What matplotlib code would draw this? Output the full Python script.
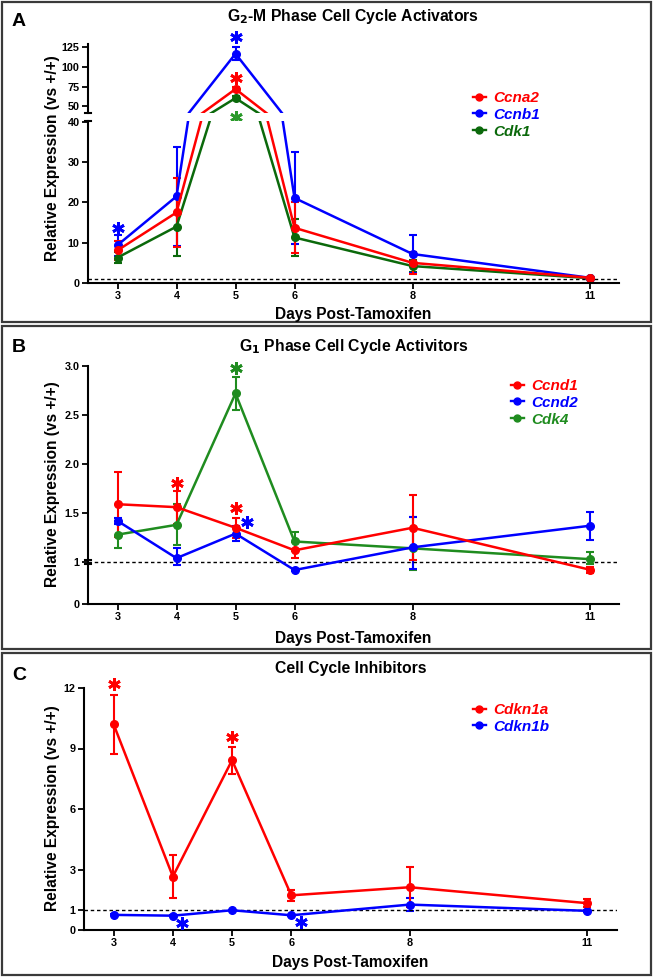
import numpy as np
import matplotlib
matplotlib.use("Agg")
import matplotlib.pyplot as plt
from matplotlib.lines import Line2D
from matplotlib.patches import Rectangle
from matplotlib.transforms import offset_copy

plt.rcParams['font.family'] = ['Liberation Sans', 'DejaVu Sans']
plt.rcParams['font.weight'] = 'bold'

W, H = 655, 977

days = [3, 4, 5, 6, 8, 11]
day_ticks = ['3', '4', '5', '6', '8', '11']

# panel A - G2-M activators
a_genes = ['Ccna2', 'Ccnb1', 'Cdk1']
ccna2 = [8.1, 17.5, 72.0, 13.7, 5.0, 1.3]
ccna2_err = [2.3, 8.5, 3.0, 6.3, 2.7, 0.3]
ccnb1 = [9.4, 21.5, 117.0, 21.1, 7.2, 1.3]
ccnb1_err = [2.6, 12.2, 8.5, 11.4, 4.7, 0.3]
cdk1 = [6.3, 14.0, 60.5, 11.3, 4.2, 1.2]
cdk1_err = [1.3, 7.2, 3.0, 4.7, 1.5, 0.2]

# panel B - G1 activators
b_genes = ['Ccnd1', 'Ccnd2', 'Cdk4']
ccnd1 = [1.59, 1.56, 1.35, 1.12, 1.35, 0.82]
ccnd1_err = [0.33, 0.17, 0.10, 0.08, 0.33, 0.07]
ccnd2 = [1.42, 1.04, 1.29, 0.81, 1.15, 1.37]
ccnd2_err = [0.03, 0.10, 0.08, 0.02, 0.31, 0.14]
cdk4 = [1.28, 1.38, 2.72, 1.21, 1.14, 1.03]
cdk4_err = [0.14, 0.21, 0.17, 0.10, 0.32, 0.07]

# panel C - inhibitors
c_genes = ['Cdkn1a', 'Cdkn1b']
cdkn1a = [10.2, 2.65, 8.42, 1.72, 2.12, 1.33]
cdkn1a_err = [1.45, 1.05, 0.66, 0.28, 1.0, 0.2]
cdkn1b = [0.75, 0.71, 0.98, 0.73, 1.26, 0.95]
cdkn1b_err = [0.03, 0.03, 0.03, 0.03, 0.32, 0.04]

RED = '#ff0000'
BLUE = '#0000ff'
DKGREEN = '#0b690b'
GREEN = '#1f8c1f'

TICK = 7.8
LAB = 11.2
TITLE = 11.3


def rect(l, r, t, b):
    return [l / W, 1 - b / H, (r - l) / W, (b - t) / H]


def style(ax, bottom=True):
    for s in ['top', 'right']:
        ax.spines[s].set_visible(False)
    ax.spines['left'].set_linewidth(1.5)
    ax.spines['bottom'].set_linewidth(1.5)
    if not bottom:
        ax.spines['bottom'].set_visible(False)
    ax.tick_params(direction='out', length=4, width=1.3, labelsize=TICK, pad=2)
    for t in ax.get_xticklabels() + ax.get_yticklabels():
        t.set_fontweight('bold')
    ax.set_xlim(2.5, 11.5)


def series(ax, y, e, c):
    ax.errorbar(days, y, yerr=e, color=c, marker='o', ms=5.5, lw=1.8,
                elinewidth=1.5, capsize=3, capthick=1.5, clip_on=True)


def star(ax, x, y, c, dx, dy):
    tr = offset_copy(ax.transData, fig=fig, x=dx, y=dy, units='dots')
    ax.plot([x], [y], marker=(6, 2, 0), ms=9, mew=2.0, color=c,
            transform=tr, clip_on=False, zorder=5)


def legend(ax, genes, colors, x0, y0):
    hs = [Line2D([], [], color=c, marker='o', ms=5, lw=1.7) for c in colors]
    ax.legend(hs, genes, loc='upper left', bbox_to_anchor=(x0 / W, 1 - y0 / H),
              bbox_transform=fig.transFigure, frameon=False, borderpad=0,
              borderaxespad=0, handlelength=0.85, handletextpad=0.5,
              labelspacing=0.18, labelcolor='linecolor',
              prop=dict(family='Liberation Sans', weight='bold', style='italic', size=11))


def fline(x0, x1, y0, y1):
    fig.add_artist(Line2D([x0 / W, x1 / W], [1 - y0 / H, 1 - y1 / H], color='black',
                          lw=1.5, transform=fig.transFigure))


def labels(title, letter, xc, ty, ly, xy, yy):
    fig.text(xc / W, 1 - ty / H, title, ha='center', va='center',
             fontsize=TITLE, fontweight='bold')
    fig.text(19 / W, 1 - ly / H, letter, ha='center', va='center',
             fontsize=14, fontweight='bold')
    fig.text(xc / W, 1 - xy / H, 'Days Post-Tamoxifen', ha='center', va='center',
             fontsize=LAB, fontweight='bold')
    fig.text(53 / W, 1 - yy / H, 'Relative Expression (vs +/+)', ha='center',
             va='center', rotation=90, fontsize=LAB, fontweight='bold')


fig = plt.figure(figsize=(W / 100, H / 100), dpi=100)

# panel frames
for t, b in [(2, 322), (326, 649), (653, 975)]:
    fig.add_artist(Rectangle((2 / W, 1 - b / H), 649 / W, (b - t) / H, fill=False,
                             ec='#3a3a3a', lw=1.6, transform=fig.transFigure))

# ---------------- panel A ----------------
axu = fig.add_axes(rect(88, 619, 43.5, 113))
axl = fig.add_axes(rect(88, 619, 121, 283))
for ax in (axu, axl):
    series(ax, cdk1, cdk1_err, DKGREEN)
    series(ax, ccnb1, ccnb1_err, BLUE)
    series(ax, ccna2, ccna2_err, RED)
axu.set_ylim(41.5, 130)
axl.set_ylim(0, 40.2)
axu.set_yticks([50, 75, 100, 125])
axl.set_yticks([0, 10, 20, 30, 40])
axl.axhline(1, color='black', lw=1, ls=(0, (2.5, 2)))
style(axu, bottom=False)
style(axl)
axu.set_xticks([])
axl.set_xticks(days, day_ticks)
for t in axl.get_xticklabels():
    t.set_fontweight('bold')
fline(85, 91, 113, 113)
fline(85, 91, 121, 121)

star(axl, 3, ccnb1[0] + ccnb1_err[0], BLUE, 0, 7)
star(axu, 5, ccnb1[2] + ccnb1_err[2], BLUE, 0, 10)
star(axu, 5, ccna2[2], RED, 0, 11)
star(axu, 5, cdk1[2], '#2a9a2a', 0, -19)
legend(axl, a_genes, [RED, BLUE, DKGREEN], 473, 91)

labels(r'G$_\mathbf{2}$-M Phase Cell Cycle Activators', 'A', 353.5, 17, 22, 314, 158)

# ---------------- panel B ----------------
r = 42 / 98.2


def fwd(y):
    y = np.asarray(y, float)
    return np.where(y < 1, y * r, r + (y - 1))


def inv(v):
    v = np.asarray(v, float)
    return np.where(v < r, v / r, 1 + (v - r))


axb = fig.add_axes(rect(88, 619, 366, 604))
axb.set_yscale('function', functions=(fwd, inv))
series(axb, cdk4, cdk4_err, GREEN)
series(axb, ccnd2, ccnd2_err, BLUE)
series(axb, ccnd1, ccnd1_err, RED)
axb.axhline(1, color='black', lw=1, ls=(0, (2.5, 2)))
axb.set_ylim(0, 3.0)
axb.set_yticks([0, 1, 1.5, 2.0, 2.5, 3.0], ['0', '1', '1.5', '2.0', '2.5', '3.0'])
axb.set_xticks(days, day_ticks)
style(axb)
fline(85, 91, 560, 560)
fline(85, 91, 563.5, 563.5)

star(axb, 5, cdk4[2] + cdk4_err[2], GREEN, 0, 9)
star(axb, 4, ccnd1[1] + ccnd1_err[1], RED, 0, 8)
star(axb, 5, ccnd1[2] + ccnd1_err[2], RED, 0, 10)
star(axb, 5, ccnd2[2], BLUE, 11, 12)
legend(axb, b_genes, [RED, BLUE, GREEN], 511, 379)

labels(r'G$_\mathbf{1}$ Phase Cell Cycle Activitors', 'B', 353.5, 347, 347, 638, 484)

# ---------------- panel C ----------------
axc = fig.add_axes(rect(84, 617, 688, 930))
series(axc, cdkn1b, cdkn1b_err, BLUE)
series(axc, cdkn1a, cdkn1a_err, RED)
axc.axhline(1, color='black', lw=1, ls=(0, (2.5, 2)))
axc.set_ylim(0, 12)
axc.set_yticks([0, 1, 3, 6, 9, 12])
axc.set_xticks(days, day_ticks)
style(axc)

star(axc, 3, cdkn1a[0] + cdkn1a_err[0], RED, 0, 11)
star(axc, 5, cdkn1a[2] + cdkn1a_err[2], RED, 0, 10)
star(axc, 4, cdkn1b[1], BLUE, 9, -7)
star(axc, 6, cdkn1b[3], BLUE, 10, -7)
legend(axc, c_genes, [RED, BLUE], 473, 703)

labels('Cell Cycle Inhibitors', 'C', 350.5, 669, 675, 963, 808)

fig.savefig('out.png', dpi=100)
